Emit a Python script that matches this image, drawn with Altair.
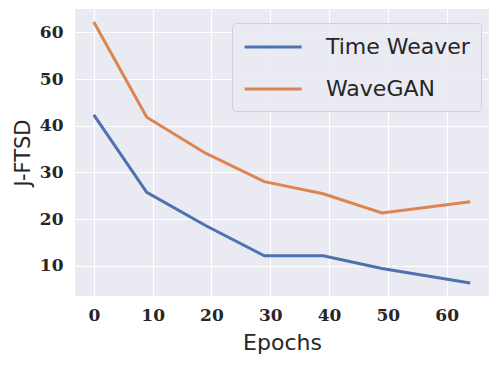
import altair as alt
import pandas as pd

epochs = [0, 9, 19, 29, 39, 49, 64]
time_weaver = [42.3, 25.7, 18.6, 12.1, 12.1, 9.4, 6.3]
wavegan = [62.2, 41.8, 34.1, 28.0, 25.4, 21.3, 23.7]
series = ["Time Weaver", "WaveGAN"]
colors = ["#4c72b0", "#dd8452"]
x_ticks = [0, 10, 20, 30, 40, 50, 60]
y_ticks = [10, 20, 30, 40, 50, 60]

rows = []
for e, v in zip(epochs, time_weaver):
    rows.append({"Epochs": e, "J-FTSD": v, "Method": series[0]})
for e, v in zip(epochs, wavegan):
    rows.append({"Epochs": e, "J-FTSD": v, "Method": series[1]})
df = pd.DataFrame(rows)

serif = "DejaVu Serif"
sans = "DejaVu Sans"

chart = alt.Chart(df).mark_line(strokeWidth=3).encode(
    x=alt.X("Epochs:Q",
            scale=alt.Scale(domain=[-3.2, 67.2], nice=False, zero=False),
            axis=alt.Axis(values=x_ticks, title="Epochs", format="d")),
    y=alt.Y("J-FTSD:Q",
            scale=alt.Scale(domain=[3.5, 65.0], nice=False, zero=False),
            axis=alt.Axis(values=y_ticks, title="J-FTSD", format="d",
                          titleFontSize=21)),
    color=alt.Color("Method:N",
                    scale=alt.Scale(domain=series, range=colors),
                    legend=alt.Legend(title=None, orient="none",
                                      legendX=157, legendY=14,
                                      symbolType="M-1,0H4", symbolSize=520,
                                      symbolStrokeWidth=3,
                                      labelFontSize=22, labelFont=sans,
                                      labelColor="#262626",
                                      labelOffset=57, rowPadding=18,
                                      padding=11,
                                      fillColor="rgba(234,234,242,0.8)",
                                      strokeColor="#d0d0d6",
                                      cornerRadius=4, labelLimit=300)),
).properties(
    width=414, height=287,
    autosize=alt.AutoSizeParams(type="none"),
    padding={"left": 67, "top": 1, "right": 1, "bottom": 62},
    background="white",
).configure_view(
    fill="#eaeaf2", stroke=None
).configure_axis(
    grid=True, gridColor="white", gridWidth=1.2,
    domain=False, ticks=False,
    labelFont=serif, labelFontSize=17, labelFontWeight="bold",
    labelColor="#262626",
    titleFont=sans, titleFontSize=22, titleFontWeight="normal",
    titleColor="#262626",
).configure_axisX(
    labelPadding=11, titlePadding=9
).configure_axisY(
    labelPadding=12, titlePadding=6
)

chart.save("out.html", embed_options={"renderer": "svg", "actions": False})
